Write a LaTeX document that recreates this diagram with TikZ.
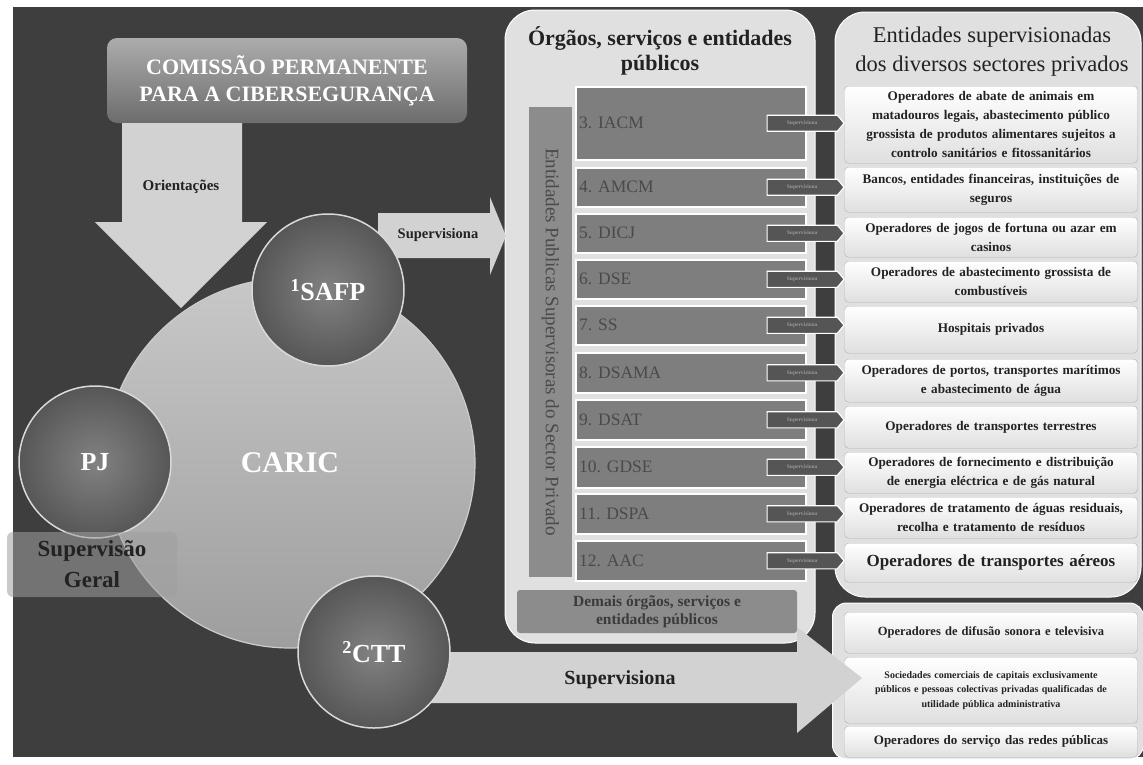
\documentclass[tikz,border=0pt]{standalone}
\usepackage{fontspec}
\setmainfont{Liberation Serif}
\usetikzlibrary{shapes.arrows}

\definecolor{bgdark}{HTML}{3E3E3E}
\definecolor{panelgray}{HTML}{E0E0E0}
\definecolor{rowgray}{HTML}{7E7E7E}
\definecolor{bargray}{HTML}{8C8C8C}
\definecolor{rowtext}{HTML}{4A4A4A}
\definecolor{circdark}{HTML}{6C6C6C}
\definecolor{circlight}{HTML}{BABABA}
\definecolor{arrowlight}{HTML}{D2D2D2}
\definecolor{tagdark}{HTML}{555555}
\definecolor{txtdark}{HTML}{222222}

\begin{document}
\begin{tikzpicture}[x=1pt,y=-1pt,
  rowbox/.style={fill=rowgray, draw=white, line width=1.5pt, anchor=north west,
    minimum width=230, inner sep=0pt},
  rowlabel/.style={anchor=west, text=rowtext, inner sep=0pt, font=\fontsize{17.5}{17.5}\selectfont},
  entbox/.style={anchor=north, rounded corners=4pt, draw=gray!60, top color=white,
    bottom color=gray!25, text width=285, inner xsep=4pt, inner ysep=0pt,
    align=center, text=txtdark},
  supertag/.style={single arrow, single arrow head extend=0pt, single arrow tip angle=100,
    minimum height=77, inner sep=5pt, fill=tagdark, draw=white, line width=1.2pt,
    text=white!60!black, font=\fontsize{5.5}{5.5}\selectfont\bfseries, anchor=tail},
  orb/.style={circle, minimum size=152, draw=white!85!black, line width=1.5pt,
    inner color=circdark!85, outer color=circdark!80!black, text=white,
    font=\fontsize{26}{26}\selectfont\bfseries},
  panel/.style={fill=panelgray, draw=white, line width=1pt, rounded corners=30pt, inner sep=0pt},
  flowtxt/.style={text=txtdark, font=\fontsize{#1}{#1}\selectfont\bfseries}
]
\useasboundingbox (0,0) rectangle (1143,764);
\fill[white] (0,0) rectangle (1143,764);
\fill[bgdark] (13,7) rectangle (1143,757);

% middle column
\node[panel, minimum width=310, minimum height=633] (orgaos) at (660,326.5) {};
\node[text=txtdark, align=center, font=\fontsize{22}{25}\selectfont\bfseries] (orgtitle) at (660,51)
  {Órgãos, serviços e entidades\\públicos};
\node[fill=bargray, rotate=-90, minimum width=470, minimum height=43, inner sep=0pt,
  text=rowtext, font=\fontsize{19}{19}\selectfont] (epsp) at (550.5,342)
  {Entidades Publicas Supervisoras do Sector Privado};
\foreach \t/\b/\lab [count=\i from 3] in {86/159/IACM, 167/206/AMCM, 213/252/DICJ,
    259/298/DSE, 305/344/SS, 352/392/DSAMA, 399/439/DSAT, 446/487/GDSE,
    493/533/DSPA, 540/580/AAC} {
  \node[rowbox, minimum height=\b-\t] (r\i) at (575,\t) {};
  \node[rowlabel] (l\i) at ([xshift=4pt]r\i.west) {\i. \lab};
}
\node[fill=bargray, rounded corners=3pt, minimum width=280, minimum height=43,
  inner sep=0pt, align=center, text=rowtext!80!black,
  font=\fontsize{15.5}{18}\selectfont\bfseries] (demais) at (657,611.5)
  {Demais órgãos, serviços e\\entidades públicos};

% right column
\node[panel, minimum width=306, minimum height=585] (privados) at (988,304.5) {};
\node[panel, rounded corners=14pt, minimum width=311, minimum height=156] (outros) at (988,681) {};
\node[text=txtdark, align=center, font=\fontsize{22.5}{29}\selectfont] (privtitle) at (992,52)
  {Entidades supervisionadas\\dos diversos sectores privados};
\foreach \t/\b/\fs/\txt [count=\i] in {
    86/163/13.2/{Operadores de abate de animais em\\matadouros legais, abastecimento público\\grossista de produtos alimentares sujeitos a\\controlo sanitários e fitossanitários},
    167/212/13.2/{Bancos, entidades financeiras, instituições de\\seguros},
    217/257/13.2/{Operadores de jogos de fortuna ou azar em\\casinos},
    261/302/13.2/{Operadores de abastecimento grossista de\\combustíveis},
    306/353/13.2/{Hospitais privados},
    359/402/13.2/{Operadores de portos, transportes marítimos\\e abastecimento de água},
    406/448/13.2/{Operadores de transportes terrestres},
    452/493/13.2/{Operadores de fornecimento e distribuição\\de energia eléctrica e de gás natural},
    497/538/13.2/{Operadores de tratamento de águas residuais,\\recolha e tratamento de resíduos},
    543/582/17/{Operadores de transportes aéreos},
    612/653/12.5/{Operadores de difusão sonora e televisiva},
    657/723/10/{Sociedades comerciais de capitais exclusivamente\\públicos e pessoas colectivas privadas qualificadas de\\utilidade pública administrativa},
    726/757/13/{Operadores do serviço das redes públicas}} {
  \pgfmathsetmacro\ld{1.45*\fs}
  \node[entbox, minimum height=\b-\t, font=\fontsize{\fs}{\ld}\selectfont\bfseries]
    (e\i) at (991,\t) {\txt};
}

% commission and CARIC
\node[rounded corners=10pt, top color=gray!65, bottom color=gray!85!black,
  minimum width=360, minimum height=85, align=center, text=white,
  font=\fontsize{22}{27}\selectfont\bfseries] (cps) at (287,80.5)
  {COMISSÃO PERMANENTE\\PARA A CIBERSEGURANÇA};
\fill[arrowlight] (122,123) -- (242,123) -- (242,222) -- (267,222) -- (181,308)
  -- (95,222) -- (122,222) -- cycle;
\node[flowtxt=15] (ori) at (181,187) {Orientações};
\fill[arrowlight] (378,213) -- (490,213) -- (490,197) -- (506,236) -- (490,275)
  -- (490,258) -- (378,258) -- cycle;
\node[flowtxt=14.5] (sup1) at (438,235) {Supervisiona};
\fill[arrowlight] (430,652) -- (797,652) -- (797,627) -- (862,678) -- (797,733)
  -- (797,703) -- (430,703) -- cycle;
\node[flowtxt=20] (sup2) at (620,680) {Supervisiona};

\node[circle, minimum size=370, top color=circlight!80!white, bottom color=circlight!85!black,
  draw=white!80!black, line width=1.2pt, text=white,
  font=\fontsize{30}{30}\selectfont\bfseries] (caric) at (290,463) {CARIC};
\node[orb] (safp) at (328,290) {\textsuperscript{1}SAFP};
\node[orb] (pj) at (95,462) {PJ};
\node[orb] (ctt) at (374,652) {\textsuperscript{2}CTT};
\node[rounded corners=6pt, fill=gray!75, fill opacity=0.55, text opacity=1,
  minimum width=170, minimum height=65, inner sep=0pt, align=center, text=txtdark,
  font=\fontsize{23}{31}\selectfont\bfseries] (geral) at (92,564.5) {Supervisão\\Geral};

% supervision tags
\foreach \i in {3,...,12} {
  \node[supertag] (s\i) at ([xshift=-40pt]r\i.east) {Supervisiona};
}
\end{tikzpicture}
\end{document}
